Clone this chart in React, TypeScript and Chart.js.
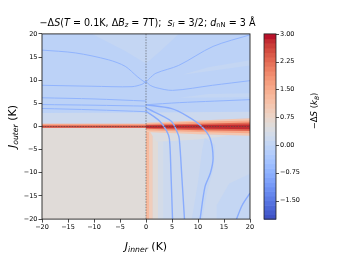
import React, { useEffect, useRef } from 'react';
import { Chart, registerables } from 'chart.js';
Chart.register(...registerables);

// ---------------- data ----------------
const xTicks = [-20, -15, -10, -5, 0, 5, 10, 15, 20];
const yTicks = [-20, -15, -10, -5, 0, 5, 10, 15, 20];
const cbTicks = [-1.5, -0.75, 0, 0.75, 1.5, 2.25, 3.0];
const cbMin = -2;
const cbMax = 3;
const cbLevels = 40;

// regions of the map: polygons in (J_inner, J_outer) with their -ΔS value
const regionUpper = [[-20, 0], [20, 0], [20, 20], [-20, 20]];
const regionLowerLeft = [[-20, -20], [0, -20], [0, 0], [-20, 0]];
const regionLowerRight = [[0, -20], [20, -20], [20, 0], [0, 0]];
const patchNearBand = [[-20, 0.5], [0, 0.5], [0, 0.8], [20, 1.8], [20, 3.2], [0, 3.0], [-20, 2.9]];
const patchTopTriangle = [[-10.4, 20], [6.3, 20], [3, 16.5], [0, 13.6], [-4, 16.3]];
const patchStreak = [[7, 11.2], [20, 13.2], [20, 14.3], [12, 12.8]];
const patchAboveD = [[6.3, 6.2], [20, 6.3], [20, 7.2], [12, 7.0]];
const patchStrip1 = [[0, -20], [0.6, -20], [0.6, 0], [0, 0]];
const patchStrip2 = [[0.6, -20], [1.3, -20], [1.3, -0.5], [0.6, -0.5]];
const patchStrip3 = [[1.3, -20], [2.3, -20], [2.3, -1], [1.3, -1]];
const patchStrip4 = [[2.3, -20], [3.3, -20], [3.3, -2], [2.3, -2]];
const patchUnderBand = [[0.6, -0.8], [10, -1.7], [16, -2], [10, -2.8], [2, -3.3]];
const patchHookTrunk = [[11.3, -2.5], [13.3, -4], [13, -9], [11.8, -14], [10.8, -20], [8.8, -20], [10, -12], [10.8, -5]];
const patchBottomRight = [[13.6, -20], [13.6, -17], [16, -12.3], [20, -10.2], [20, -20]];
const bandLeftHalo = [[-20, -0.27], [0, -0.27], [0, 0.62], [-20, 0.62]];
const bandLeftCore = [[-20, -0.27], [0, -0.27], [0, 0.2], [-20, 0.2]];
const bandRightOuter = [[0, 0.8], [10, 1.3], [20, 1.8], [20, -2.0], [10, -1.7], [0, -1.2]];
const bandRightHalo = [[0, 0.6], [10, 1.0], [20, 1.3], [20, -1.45], [10, -1.2], [0, -0.8]];
const bandRightMid = [[0, 0.4], [10, 0.6], [20, 0.85], [20, -0.95], [10, -0.8], [0, -0.5]];
const bandRightCore = [[0, 0.2], [10, 0.3], [20, 0.45], [20, -0.6], [10, -0.45], [0, -0.3]];

const regionValues = [
  [regionUpper, -0.05],
  [regionLowerLeft, 0.55],
  [regionLowerRight, 0.14],
  [patchNearBand, 0.15],
  [patchTopTriangle, 0.08],
  [patchStreak, 0.08],
  [patchAboveD, 0.08],
  [patchStrip4, 0.35],
  [patchStrip3, 0.6],
  [patchStrip2, 0.95],
  [patchStrip1, 1.35],
  [patchUnderBand, 0.45],
  [patchHookTrunk, 0.0],
  [patchBottomRight, 0.0],
  [bandLeftHalo, 1.5],
  [bandLeftCore, 2.55],
  [bandRightOuter, 1.05],
  [bandRightHalo, 1.6],
  [bandRightMid, 2.3],
  [bandRightCore, 2.85],
];

// thin low-entropy ridges (blue lines)
const lineE = [[-20, 16.5], [-13.6, 15.9], [-7.2, 14.4], [-4, 13.0], [-1.7, 10.8], [-0.4, 9.7], [0, 9.6], [0.6, 10.3], [1.9, 11.5], [6.3, 13.2], [12.9, 17.3], [20, 19.8]];
const lineF = [[-20, 8.9], [-10.4, 8.7], [-2.7, 8.6], [-0.8, 9.1], [0, 9.6], [0.8, 8.9], [1.9, 8.4], [5.1, 7.8], [12.8, 8.9], [20, 9.9]];
const lineG = [[-20, 6.2], [-10, 5.95], [0, 5.5]];
const lineH = [[-20, 4.74], [-10, 4.6], [0, 4.4]];
const lineI = [[-20, 3.9], [-10, 3.6], [0, 3.2]];
const lineD = [[0, 4.7], [6.4, 5.15], [20, 5.8]];
const lineA = [[0, 3.3], [2.6, 1.2], [3.9, -0.8], [4.5, -2.7], [4.8, -10], [5.1, -20]];
const lineB = [[0, 4.0], [4.8, 1.2], [6.0, -1.2], [6.4, -2.7], [6.9, -11], [7.4, -20]];
const lineC = [[0, 4.7], [4.8, 3.9], [8, 2.2], [10.6, 0.1], [12.3, -2.5], [12.9, -6.8], [12.4, -10], [11.35, -13], [10.4, -20]];
const lineArc = [[17.4, -20], [18.5, -17], [20, -14.4]];

const upperLines = [lineE, lineF, lineG, lineH, lineI, lineD];
const lowerLines = [lineA, lineB, lineC, lineArc];
const upperLineValue = -0.65;
const lowerLineValue = -0.85;

// matplotlib coolwarm
const COOLWARM = [
  [59, 76, 192], [68, 90, 204], [77, 104, 215], [87, 117, 225], [98, 130, 234], [108, 142, 241],
  [119, 154, 247], [130, 165, 251], [141, 176, 254], [152, 185, 255], [163, 194, 255], [174, 201, 253],
  [184, 208, 249], [194, 213, 244], [204, 217, 238], [213, 219, 230], [221, 221, 221], [229, 216, 209],
  [236, 211, 197], [241, 204, 184], [245, 196, 172], [247, 187, 159], [247, 177, 147], [247, 166, 134],
  [244, 154, 123], [241, 141, 111], [236, 127, 99], [229, 112, 88], [222, 96, 77], [213, 80, 66],
  [203, 62, 56], [192, 40, 47], [180, 4, 38],
];

function cw(t: number) {
  const n = COOLWARM.length - 1;
  const p = Math.max(0, Math.min(1, t)) * n;
  const i = Math.min(n - 1, Math.floor(p));
  const f = p - i;
  const a = COOLWARM[i], b = COOLWARM[i + 1];
  return `rgb(${Math.round(a[0] + (b[0] - a[0]) * f)},${Math.round(a[1] + (b[1] - a[1]) * f)},${Math.round(a[2] + (b[2] - a[2]) * f)})`;
}
function levelColor(v: number) {
  const k = Math.max(0, Math.min(cbLevels - 1, Math.floor(((v - cbMin) / (cbMax - cbMin)) * cbLevels)));
  return cw((k + 0.5) / cbLevels);
}
const minus = (v: number, d: number) => (v < 0 ? '\u2212' : '') + Math.abs(v).toFixed(d);

type Run = { t: string; it?: boolean; sub?: boolean };
const FONT = '"DejaVu Sans"';
const titleRuns: Run[] = [
  { t: '\u2212\u0394' }, { t: 'S', it: true }, { t: '(' }, { t: 'T', it: true }, { t: ' = 0.1K, \u0394' },
  { t: 'B', it: true }, { t: 'z', it: true, sub: true }, { t: ' = 7T);  ' }, { t: 's', it: true },
  { t: 'i', it: true, sub: true }, { t: ' = 3/2; ' }, { t: 'd', it: true }, { t: 'nN', sub: true }, { t: ' = 3 \u00c5' },
];
const xLabelRuns: Run[] = [{ t: 'J', it: true }, { t: 'inner', it: true, sub: true }, { t: ' (K)' }];
const yLabelRuns: Run[] = [{ t: 'J', it: true }, { t: 'outer', it: true, sub: true }, { t: ' (K)' }];
const cbLabelRuns: Run[] = [{ t: '\u2212\u0394' }, { t: 'S', it: true }, { t: ' (' }, { t: 'k', it: true }, { t: 'B', it: true, sub: true }, { t: ')' }];

function fontFor(r: Run, size: number) {
  return `${r.it ? 'italic ' : ''}${r.sub ? size * 0.7 : size}px ${FONT}`;
}
function drawRuns(ctx: CanvasRenderingContext2D, runs: Run[], cx: number, y: number, size: number) {
  let w = 0;
  for (const r of runs) { ctx.font = fontFor(r, size); w += ctx.measureText(r.t).width; }
  let x = cx - w / 2;
  ctx.textAlign = 'left';
  ctx.textBaseline = 'alphabetic';
  for (const r of runs) {
    ctx.font = fontFor(r, size);
    ctx.fillText(r.t, x, r.sub ? y + size * 0.2 : y);
    x += ctx.measureText(r.t).width;
  }
}

const heatPlugin = {
  id: 'heat',
  beforeDatasetsDraw(chart: any) {
    const { ctx, chartArea: a, scales } = chart;
    const sx = scales.x, sy = scales.y;
    ctx.save();
    ctx.beginPath();
    ctx.rect(a.left, a.top, a.right - a.left, a.bottom - a.top);
    ctx.clip();
    for (const [poly, v] of regionValues as any) {
      ctx.beginPath();
      poly.forEach(([px, py]: number[], i: number) => {
        const X = sx.getPixelForValue(px), Y = sy.getPixelForValue(py);
        if (i) ctx.lineTo(X, Y); else ctx.moveTo(X, Y);
      });
      ctx.closePath();
      ctx.fillStyle = levelColor(v);
      ctx.fill();
    }
    ctx.restore();
  },
  afterDatasetsDraw(chart: any) {
    const { ctx, chartArea: a, scales } = chart;
    const sx = scales.x, sy = scales.y;
    ctx.save();
    ctx.strokeStyle = 'rgba(70,70,70,0.8)';
    ctx.lineWidth = 0.7;
    ctx.setLineDash([1.5, 1.2]);
    const x0 = sx.getPixelForValue(0), y0 = sy.getPixelForValue(0);
    ctx.beginPath(); ctx.moveTo(x0, a.top); ctx.lineTo(x0, a.bottom); ctx.stroke();
    ctx.beginPath(); ctx.moveTo(a.left, y0); ctx.lineTo(a.right, y0); ctx.stroke();
    ctx.setLineDash([]);
    ctx.strokeStyle = '#222';
    ctx.lineWidth = 0.9;
    ctx.strokeRect(a.left, a.top, a.right - a.left, a.bottom - a.top);
    ctx.restore();
  },
  afterDraw(chart: any) {
    const { ctx, chartArea: a, scales } = chart;
    const cb = scales.cb;
    ctx.save();
    const bx = cb.left + 14, bw = 12;
    const step = (cbMax - cbMin) / cbLevels;
    for (let k = 0; k < cbLevels; k++) {
      const v0 = cbMin + k * step, v1 = v0 + step;
      const p0 = cb.getPixelForValue(v0), p1 = cb.getPixelForValue(v1);
      ctx.fillStyle = cw((k + 0.5) / cbLevels);
      ctx.fillRect(bx, p1, bw, p0 - p1 + 0.6);
    }
    ctx.strokeStyle = '#222';
    ctx.lineWidth = 0.8;
    ctx.strokeRect(bx, cb.getPixelForValue(cbMax), bw, cb.getPixelForValue(cbMin) - cb.getPixelForValue(cbMax));
    ctx.beginPath();
    for (const t of cbTicks) {
      const p = Math.round(cb.getPixelForValue(t)) + 0.5;
      ctx.moveTo(bx + bw, p); ctx.lineTo(bx + bw + 3, p);
    }
    ctx.stroke();

    ctx.fillStyle = '#000';
    drawRuns(ctx, titleRuns, 147.5, 25.5, 9.6);
    drawRuns(ctx, xLabelRuns, (a.left + a.right) / 2, 250, 11);
    ctx.save();
    ctx.translate(16, (a.top + a.bottom) / 2);
    ctx.rotate(-Math.PI / 2);
    drawRuns(ctx, yLabelRuns, 0, 0, 11);
    ctx.restore();
    ctx.save();
    ctx.translate(317, 111);
    ctx.rotate(-Math.PI / 2);
    drawRuns(ctx, cbLabelRuns, 0, 0, 8.5);
    ctx.restore();
    ctx.restore();
  },
};

function lineDataset(pts: number[][], v: number, w: number) {
  return {
    type: 'line',
    data: pts.map(([x, y]) => ({ x, y })),
    borderColor: levelColor(v),
    borderWidth: w,
    pointRadius: 0,
    showLine: true,
    tension: 0.3,
    fill: false,
  };
}

export default function App() {
  const ref = useRef<HTMLCanvasElement>(null);
  useEffect(() => {
    if (!ref.current) return;
    const tickFont = { family: FONT, size: 6.5 };
    const chart = new Chart(ref.current, {
      type: 'scatter',
      data: {
        datasets: [
          ...upperLines.map((l) => lineDataset(l, upperLineValue, 1.0)),
          ...lowerLines.map((l) => lineDataset(l, lowerLineValue, 1.4)),
        ] as any,
      },
      options: {
        animation: false,
        responsive: false,
        events: [],
        layout: { padding: { left: 8, right: 37, top: 30, bottom: 0 } },
        plugins: { legend: { display: false }, tooltip: { enabled: false }, title: { display: false } },
        scales: {
          x: {
            type: 'linear', min: -20, max: 20,
            afterBuildTicks: (s: any) => { s.ticks = xTicks.map((value) => ({ value })); },
            afterFit: (s: any) => { s.height = 29; },
            ticks: { font: tickFont, color: '#000', padding: 1, maxRotation: 0, callback: (v: any) => minus(Number(v), 0) },
            grid: { drawOnChartArea: false, drawTicks: true, tickLength: 3.5, color: '#222', lineWidth: 0.8 },
            border: { display: false },
          },
          y: {
            type: 'linear', min: -20, max: 20,
            afterBuildTicks: (s: any) => { s.ticks = yTicks.map((value) => ({ value })); },
            afterFit: (s: any) => { s.width = 34; },
            ticks: { font: tickFont, color: '#000', padding: 1, callback: (v: any) => minus(Number(v), 0) },
            grid: { drawOnChartArea: false, drawTicks: true, tickLength: 3.5, color: '#222', lineWidth: 0.8 },
            border: { display: false },
          },
          cb: {
            type: 'linear', axis: 'y', position: 'right', min: cbMin, max: cbMax,
            afterBuildTicks: (s: any) => { s.ticks = cbTicks.map((value) => ({ value })); },
            afterFit: (s: any) => { s.width = 50; },
            ticks: { font: { family: FONT, size: 6.5 }, color: '#000', padding: 30, callback: (v: any) => minus(Number(v), 2) },
            grid: { display: false, drawTicks: false },
            border: { display: false },
          },
        } as any,
      },
      plugins: [heatPlugin as any],
    });
    return () => chart.destroy();
  }, []);
  return (
    <div style={{ position: 'fixed', left: 0, top: 0, width: 337, height: 253, background: '#fff' }}>
      <canvas ref={ref} width={337} height={253} style={{ display: 'block' }} />
    </div>
  );
}
